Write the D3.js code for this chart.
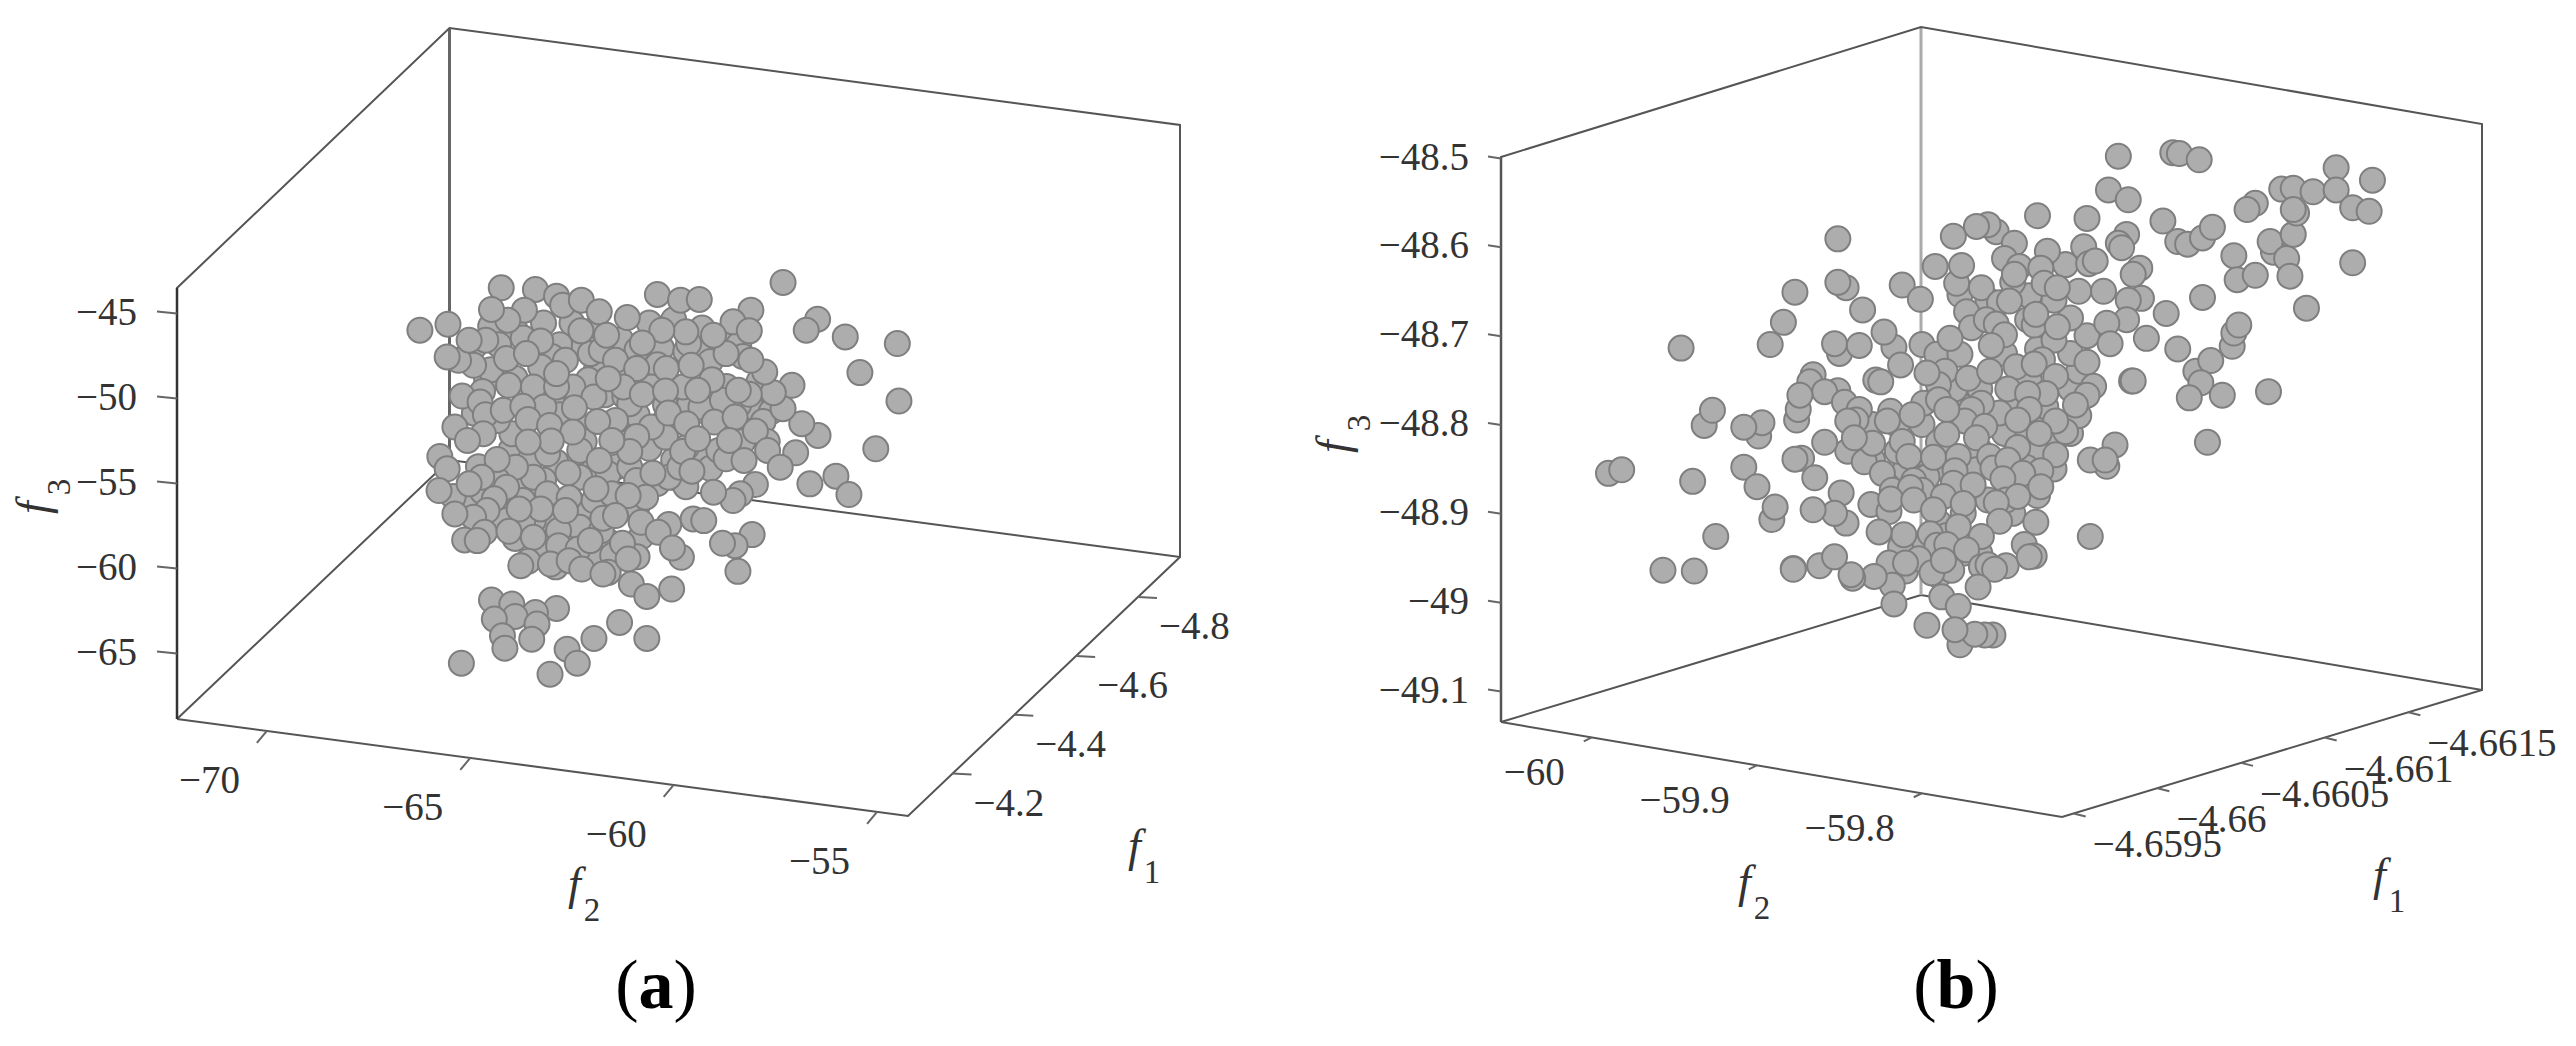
<!DOCTYPE html>
<html>
<head>
<meta charset="utf-8">
<script src="https://cdn.jsdelivr.net/npm/d3@7"></script>
<style>
  html, body { margin: 0; padding: 0; background: #fff; }
  text { font-family: 'Liberation Serif', serif; fill: #333; }
</style>
</head>
<body>
<div id="chart"></div>
<script>
// tick values of the two panels
var f3TicksA = [-45, -50, -55, -60, -65]
var f2TicksA = [-70, -65, -60, -55]
var f1TicksA = [-4.8, -4.6, -4.4, -4.2]
var f3TicksB = [-48.5, -48.6, -48.7, -48.8, -48.9, -49, -49.1]
var f2TicksB = [-60, -59.9, -59.8]
var f1TicksB = [-4.6595, -4.66, -4.6605, -4.661, -4.6615]

// points: [reading against the f2 axis, reading against the f3 axis]
var pointsA = [
  // the ones mostly hidden in the middle of the cloud
  [-64.5,-45.8],[-63.9,-46.0],[-63.2,-45.6],[-62.5,-45.6],[-61.9,-45.9],[-61.3,-46.6],[-60.6,-45.6],[-60.0,-45.4],[-59.3,-45.9],[-58.8,-46.4],
  [-64.9,-47.0],[-64.3,-46.9],[-63.7,-46.5],[-62.8,-46.9],[-62.2,-47.0],[-60.9,-47.2],[-60.3,-47.1],[-59.7,-47.3],[-59.2,-47.4],[-58.4,-46.9],
  [-64.6,-49.0],[-64.5,-48.4],[-63.9,-48.9],[-63.0,-47.6],[-61.9,-48.4],[-61.3,-48.6],[-60.4,-48.1],[-59.1,-47.9],[-58.3,-47.6],[-57.9,-49.1],
  [-64.7,-49.7],[-63.6,-49.9],[-63.0,-50.2],[-62.1,-49.0],[-61.7,-49.9],[-61.2,-50.0],[-60.2,-50.5],[-59.6,-50.4],[-58.7,-49.4],[-58.1,-50.6],
  [-57.6,-50.9],[-64.9,-51.0],[-62.8,-51.1],[-62.2,-51.9],[-61.4,-52.1],[-60.9,-51.1],[-60.2,-51.4],[-59.2,-50.9],[-58.4,-50.5],[-57.8,-51.5],
  [-64.0,-53.2],[-62.9,-53.9],[-62.2,-52.7],[-61.2,-52.8],[-60.6,-53.1],[-60.0,-53.8],[-59.3,-53.6],[-58.3,-52.7],[-57.7,-52.7],[-64.8,-54.2],
  [-64.4,-54.5],[-63.8,-55.2],[-63.2,-55.0],[-62.0,-54.5],[-61.4,-54.2],[-60.4,-55.2],[-59.7,-55.4],[-59.1,-54.3],[-65.1,-56.4],[-64.7,-55.7],
  [-63.4,-56.0],[-62.0,-57.3],[-61.3,-56.7],[-60.9,-56.6],[-64.0,-57.0],[-63.9,-58.5],[-63.2,-58.5],[-62.5,-58.0],[-61.6,-58.7],[-60.8,-58.4],
  [-60.9,-59.6],[-62.0,-59.5],[-63.3,-59.3],[-61.5,-59.5],[-62.9,-60.2],
  [-63.27,-48.23],[-63.45,-49.43],[-62.66,-47.83],[-62.05,-47.43],[-61.78,-47.23],[-61.43,-47.83],[-62.48,-49.43],[-61.96,-50.03],
  [-61.08,-50.43],[-60.55,-49.43],[-59.77,-49.43],[-59.15,-49.83],[-59.33,-50.63],[-59.68,-53.03],[-58.89,-53.23],[-60.20,-52.43],
  [-60.55,-51.83],[-61.43,-51.43],[-63.19,-50.63],[-63.98,-52.23],[-64.33,-51.43],[-63.54,-53.83],[-63.10,-53.43],[-62.31,-53.23],
  [-61.61,-54.63],[-61.08,-54.23],[-60.12,-54.83],[-59.85,-54.23],[-62.31,-54.83],[-63.45,-54.83],[-63.89,-54.23],[-64.33,-55.03],
  [-63.71,-56.23],[-63.10,-55.83],[-62.31,-56.83],[-61.96,-56.23],[-61.52,-55.83],[-63.01,-57.43],[-63.45,-57.43],[-62.31,-57.83],
  [-61.78,-58.03],[-62.83,-58.03],[-63.71,-57.43],[-64.15,-57.43],[-60.91,-55.03],
  // the ones on top
  [-64.24,-43.49],[-63.40,-43.59],[-62.88,-43.99],[-62.73,-44.53],[-62.27,-44.23],[-61.83,-44.93],[-61.14,-45.27],[-60.40,-43.89],
  [-59.83,-44.23],[-59.37,-44.19],[-57.31,-43.17],[-58.10,-44.83],[-58.54,-45.53],[-58.14,-46.07],[-56.46,-45.37],[-56.74,-46.03],
  [-55.78,-46.43],[-54.50,-46.83],[-55.42,-48.57],[-54.46,-50.27],[-55.03,-53.13],[-56.45,-52.33],[-56.85,-51.63],[-57.09,-49.33],
  [-57.31,-50.73],[-57.55,-49.77],[-57.76,-48.53],[-58.10,-47.83],[-58.14,-49.87],[-58.80,-50.23],[-59.06,-48.99],[-58.71,-47.43],
  [-59.02,-46.33],[-59.63,-46.83],[-59.70,-46.13],[-60.29,-46.03],[-60.77,-46.79],[-61.65,-46.33],[-62.28,-46.07],[-63.27,-46.67],
  [-63.67,-44.83],[-64.08,-45.43],[-64.48,-44.79],[-64.62,-46.63],[-64.92,-48.13],[-65.29,-47.83],[-65.57,-47.63],[-66.24,-46.03],
  [-65.55,-45.67],[-65.03,-46.63],[-64.11,-47.73],[-64.06,-49.33],[-63.62,-47.43],[-62.88,-49.43],[-62.88,-48.63],[-60.91,-48.33],
  [-60.18,-48.33],[-59.57,-48.13],[-61.24,-49.43],[-61.61,-48.93],[-60.77,-49.87],[-60.20,-49.67],[-59.41,-49.63],[-58.41,-49.63],
  [-65.20,-49.97],[-64.76,-50.33],[-64.63,-51.09],[-64.19,-50.83],[-63.71,-50.59],[-63.58,-51.37],[-63.05,-51.73],[-62.44,-50.67],
  [-61.87,-51.49],[-62.48,-52.13],[-60.91,-52.39],[-60.13,-50.99],[-59.68,-51.63],[-59.00,-51.53],[-58.49,-51.23],[-57.99,-52.07],
  [-57.69,-53.23],[-57.00,-53.37],[-57.38,-54.23],[-58.71,-53.73],[-58.27,-53.83],[-58.63,-52.63],[-59.78,-53.29],[-59.41,-52.53],
  [-60.51,-54.59],[-59.55,-54.47],[-61.08,-53.29],[-61.52,-52.63],[-61.83,-53.83],[-62.60,-54.57],[-63.01,-52.67],[-63.58,-52.73],
  [-64.34,-53.77],[-64.68,-52.23],[-65.38,-51.83],[-65.07,-52.63],[-65.75,-53.59],[-65.57,-54.33],[-64.72,-54.83],[-65.42,-55.99],
  [-65.77,-55.63],[-65.03,-55.23],[-64.11,-55.43],[-61.91,-55.53],[-60.69,-56.03],[-61.12,-55.93],[-57.99,-55.27],[-58.36,-55.83],
  [-58.54,-56.23],[-59.02,-55.73],[-56.65,-55.23],[-56.01,-54.77],[-55.69,-55.87],[-62.57,-56.07],[-63.27,-56.73],[-63.80,-56.73],
  [-62.66,-56.83],[-64.41,-56.13],[-64.59,-56.83],[-64.92,-57.23],[-65.38,-57.03],[-64.65,-58.13],[-65.14,-58.59],[-64.83,-58.63],
  [-64.05,-58.07],[-63.45,-58.43],[-62.83,-58.93],[-62.35,-59.13],[-61.74,-57.29],[-61.43,-57.13],[-62.05,-58.63],[-61.26,-58.79],
  [-60.80,-57.53],[-60.12,-57.67],[-60.38,-58.13],[-59.52,-57.33],[-59.26,-57.43],[-58.07,-58.27],[-58.49,-58.93],[-58.80,-58.79],
  [-59.81,-59.63],[-60.03,-59.07],[-58.42,-60.47],[-63.58,-59.87],[-63.76,-60.13],[-63.03,-60.03],[-62.57,-59.83],[-62.26,-60.33],
  [-61.61,-60.53],[-61.74,-60.63],[-61.12,-59.73],[-61.04,-61.23],[-60.66,-61.97],[-60.05,-61.53],[-64.48,-62.19],[-63.98,-62.43],
  [-62.88,-62.69],[-63.40,-62.93],[-63.90,-63.17],[-64.41,-63.33],[-63.36,-63.63],[-64.21,-64.33],[-63.49,-64.53],[-64.15,-65.07],
  [-61.33,-63.53],[-61.96,-64.49],[-60.66,-64.49],[-62.62,-65.13],[-62.37,-65.97],[-63.04,-66.63],[-65.22,-65.97]
]

var pointsB = [
  // the ones mostly hidden in the middle of the cloud
  [-59.80,-48.80],[-59.81,-48.85],[-59.79,-48.82],[-59.775,-48.78],[-59.765,-48.76],[-59.76,-48.79],[-59.75,-48.81],[-59.745,-48.775],
  [-59.73,-48.79],[-59.725,-48.78],[-59.78,-48.76],[-59.75,-48.72],[-59.735,-48.75],[-59.71,-48.76],[-59.705,-48.74],[-59.71,-48.72],
  [-59.70,-48.70],[-59.71,-48.68],[-59.72,-48.66],[-59.735,-48.655],[-59.745,-48.64],[-59.705,-48.65],[-59.69,-48.65],[-59.70,-48.73],
  [-59.83,-48.80],[-59.815,-48.83],[-59.80,-48.86],[-59.785,-48.85],[-59.77,-48.87],[-59.76,-48.885],[-59.775,-48.90],[-59.745,-48.865],
  [-59.73,-48.88],[-59.72,-48.85],[-59.72,-48.82],[-59.71,-48.81],[-59.705,-48.79],[-59.79,-48.91],[-59.745,-48.90],[-59.785,-48.925],
  [-59.775,-48.945],[-59.80,-48.94],[-59.81,-48.965],[-59.79,-48.97],[-59.765,-48.945],[-59.83,-48.84],[-59.845,-48.83],[-59.815,-48.80],
  [-59.79,-48.74],[-59.80,-48.71],[-59.76,-48.66],[-59.73,-48.715],[-59.72,-48.705],
  [-59.737,-48.818],[-59.731,-48.829],[-59.765,-48.829],[-59.737,-48.848],[-59.741,-48.863],[-59.767,-48.851],[-59.797,-48.859],
  // the ones on top
  [-59.990,-48.855],[-59.982,-48.851],[-59.698,-48.926],
  [-59.681,-48.498],[-59.648,-48.494],[-59.644,-48.495],[-59.632,-48.502],[-59.687,-48.536],[-59.675,-48.547],[-59.654,-48.571],
  [-59.700,-48.568],[-59.702,-48.600],[-59.713,-48.620],[-59.699,-48.619],[-59.695,-48.616],[-59.676,-48.586],[-59.681,-48.596],
  [-59.679,-48.601],[-59.668,-48.624],[-59.672,-48.631],[-59.645,-48.594],[-59.639,-48.597],[-59.630,-48.590],[-59.624,-48.578],
  [-59.611,-48.610],[-59.587,-48.606],[-59.589,-48.594],[-59.579,-48.613],[-59.575,-48.586],[-59.577,-48.633],[-59.609,-48.637],
  [-59.598,-48.632],[-59.539,-48.618],[-59.567,-48.669],[-59.630,-48.657],[-59.549,-48.511],[-59.527,-48.525],[-59.582,-48.535],
  [-59.575,-48.534],[-59.563,-48.538],[-59.549,-48.536],[-59.598,-48.551],[-59.603,-48.558],[-59.573,-48.562],[-59.575,-48.558],
  [-59.539,-48.556],[-59.529,-48.560],[-59.667,-48.658],[-59.675,-48.660],[-59.652,-48.675],[-59.676,-48.682],[-59.688,-48.686],
  [-59.686,-48.709],[-59.664,-48.703],[-59.645,-48.715],[-59.612,-48.712],[-59.611,-48.697],[-59.608,-48.688],[-59.634,-48.740],
  [-59.625,-48.728],[-59.631,-48.753],[-59.638,-48.770],[-59.618,-48.767],[-59.590,-48.763],[-59.673,-48.751],[-59.672,-48.751],
  [-59.627,-48.820],[-59.683,-48.823],[-59.688,-48.847],[-59.698,-48.840],[-59.689,-48.840],[-59.696,-48.757],[-59.700,-48.767],
  [-59.707,-48.778],[-59.713,-48.808],
  [-59.851,-48.591],[-59.877,-48.651],[-59.846,-48.646],[-59.851,-48.640],[-59.836,-48.671],[-59.812,-48.643],[-59.801,-48.659],
  [-59.884,-48.685],[-59.892,-48.710],[-59.946,-48.714],[-59.850,-48.720],[-59.853,-48.709],[-59.838,-48.711],[-59.817,-48.713],
  [-59.823,-48.696],[-59.813,-48.733],[-59.866,-48.744],[-59.868,-48.752],[-59.851,-48.762],[-59.859,-48.763],[-59.876,-48.795],
  [-59.875,-48.783],[-59.874,-48.767],[-59.828,-48.750],[-59.825,-48.752],[-59.932,-48.801],[-59.927,-48.784],[-59.899,-48.813],
  [-59.897,-48.798],[-59.908,-48.803],[-59.859,-48.820],[-59.847,-48.775],[-59.838,-48.783],[-59.840,-48.795],[-59.845,-48.796],
  [-59.873,-48.838],[-59.877,-48.839],[-59.835,-48.842],[-59.824,-48.855],[-59.908,-48.848],[-59.939,-48.864],[-59.900,-48.870],
  [-59.865,-48.860],[-59.849,-48.877],
  [-59.730,-48.565],[-59.755,-48.583],[-59.760,-48.575],[-59.767,-48.577],[-59.781,-48.588],[-59.744,-48.596],[-59.750,-48.613],
  [-59.724,-48.605],[-59.792,-48.622],[-59.777,-48.654],[-59.779,-48.641],[-59.776,-48.621],[-59.741,-48.622],[-59.728,-48.624],
  [-59.744,-48.631],[-59.764,-48.646],[-59.726,-48.641],[-59.718,-48.646],[-59.753,-48.663],[-59.747,-48.661],[-59.773,-48.673],
  [-59.770,-48.691],[-59.761,-48.682],[-59.755,-48.687],[-59.750,-48.699],[-59.736,-48.682],[-59.732,-48.688],[-59.731,-48.676],
  [-59.718,-48.690],[-59.791,-48.721],[-59.777,-48.721],[-59.783,-48.703],[-59.758,-48.711],[-59.786,-48.740],[-59.790,-48.755],
  [-59.797,-48.742],[-59.772,-48.748],[-59.759,-48.740],[-59.743,-48.735],[-59.727,-48.727],[-59.732,-48.732],[-59.748,-48.760],
  [-59.719,-48.746],[-59.725,-48.765],[-59.736,-48.765],[-59.735,-48.783],[-59.753,-48.787],[-59.764,-48.776],[-59.770,-48.783],
  [-59.774,-48.796],[-59.799,-48.776],[-59.790,-48.772],[-59.785,-48.783],[-59.819,-48.785],[-59.821,-48.796],[-59.806,-48.789],
  [-59.785,-48.811],[-59.762,-48.802],[-59.767,-48.815],[-59.719,-48.796],[-59.729,-48.810],[-59.812,-48.819],[-59.830,-48.821],
  [-59.841,-48.815],[-59.742,-48.795],[-59.742,-48.826],[-59.719,-48.834],[-59.759,-48.836],[-59.757,-48.849],[-59.748,-48.840],
  [-59.808,-48.836],[-59.793,-48.837],[-59.778,-48.836],[-59.780,-48.852],[-59.728,-48.852],[-59.739,-48.855],
  [-59.818,-48.874],[-59.805,-48.863],[-59.800,-48.874],[-59.807,-48.871],[-59.781,-48.866],[-59.769,-48.868],[-59.751,-48.861],
  [-59.728,-48.870],[-59.831,-48.890],[-59.820,-48.898],[-59.819,-48.884],[-59.787,-48.881],[-59.805,-48.885],[-59.793,-48.896],
  [-59.775,-48.889],[-59.749,-48.885],[-59.742,-48.881],[-59.755,-48.888],[-59.731,-48.910],[-59.753,-48.909],[-59.778,-48.915],
  [-59.795,-48.923],[-59.764,-48.926],[-59.791,-48.936],[-59.785,-48.935],[-59.813,-48.938],[-59.811,-48.924],[-59.826,-48.921],
  [-59.802,-48.951],[-59.773,-48.941],[-59.782,-48.964],[-59.794,-48.967],[-59.787,-48.953],[-59.820,-48.956],[-59.810,-48.956],
  [-59.749,-48.959],[-59.764,-48.960],[-59.760,-48.958],[-59.756,-48.963],[-59.766,-48.983],[-59.738,-48.935],[-59.732,-48.948],
  [-59.735,-48.949],[-59.788,-48.994],[-59.778,-49.005],[-59.818,-48.981],[-59.817,-49.002],[-59.829,-48.971],[-59.842,-48.973],
  [-59.843,-48.969],[-59.862,-48.959],[-59.853,-48.949],[-59.878,-48.962],[-59.878,-48.963],[-59.846,-48.911],[-59.853,-48.900],
  [-59.866,-48.896],[-59.891,-48.907],[-59.889,-48.893],[-59.925,-48.926],[-59.938,-48.965],[-59.957,-48.964],[-59.797,-49.026],
  [-59.777,-49.048],[-59.757,-49.037],[-59.762,-49.037],[-59.768,-49.036],[-59.780,-49.031]
]

var width = 2576
var height = 1046

var svg = d3
  .select('#chart')
  .append('svg')
  .attr('width', width)
  .attr('height', height)
  .style('display', 'block')

function minusLabel(d) {
  return String(d).replace('-', '\u2212')
}

function drawPanel(p) {
  var g = svg.append('g')
  var c = p.corners
  var line = d3.line()

  // back edges first, they sit behind the points
  g.append('path')
    .attr('d', line([c.leftBottom, c.backBottom, c.rightBottom]))
    .attr('fill', 'none')
    .attr('stroke', '#555')
    .attr('stroke-width', 2)
  g.append('path')
    .attr('d', line([c.backTop, c.backBottom]))
    .attr('fill', 'none')
    .attr('stroke', p.backColor)
    .attr('stroke-width', 3)
  g.append('path')
    .attr('d', line([c.leftBottom, c.leftTop, c.backTop, c.rightTop, c.rightBottom, c.front, c.leftBottom]))
    .attr('fill', 'none')
    .attr('stroke', '#555')
    .attr('stroke-width', 2)
  g.append('path')
    .attr('d', line([c.leftTop, c.leftBottom]))
    .attr('fill', 'none')
    .attr('stroke', p.leftColor)
    .attr('stroke-width', 2.5)

  // f3 axis
  var zScale = d3.scaleLinear().domain(p.zDomain).range(p.zRange)
  var zAxis = d3
    .axisLeft(zScale)
    .tickValues(p.f3Ticks)
    .tickSize(p.zTickLen)
    .tickPadding(p.zPad)
    .tickFormat(minusLabel)
  var zg = g
    .append('g')
    .attr('transform', 'translate(' + c.leftTop[0] + ',0)')
    .call(zAxis)
  zg.select('.domain').remove()
  zg.selectAll('.tick line').attr('y2', -2).attr('stroke', '#666').attr('stroke-width', 2)
  zg.selectAll('.tick text')
    .attr('font-size', p.fontSize)
    .attr('font-family', 'Liberation Serif')
    .attr('dy', 11)
    .style('fill', '#333')

  // f2 and f1 run along slanted edges, the scales return [x, y]
  var f2Edge = d3.scaleLinear().domain(p.f2Domain).range([c.leftBottom, c.front])
  var f1Edge = d3.scaleLinear().domain(p.f1Domain).range([c.rightBottom, c.front])

  function slantedAxis(scale, ticks, tick, label, anchor) {
    var t = g.append('g').selectAll('g').data(ticks).join('g')
    t.append('line')
      .attr('x1', (d) => scale(d)[0])
      .attr('y1', (d) => scale(d)[1])
      .attr('x2', (d) => scale(d)[0] + tick[0])
      .attr('y2', (d) => scale(d)[1] + tick[1])
      .attr('stroke', '#666')
      .attr('stroke-width', 2)
    t.append('text')
      .attr('x', (d) => scale(d)[0] + label[0])
      .attr('y', (d) => scale(d)[1] + label[1])
      .attr('text-anchor', anchor)
      .attr('font-size', p.fontSize)
      .text(minusLabel)
  }
  slantedAxis(f2Edge, p.f2Ticks, p.f2Tick, p.f2Label, 'end')
  slantedAxis(f1Edge, p.f1Ticks, p.f1Tick, p.f1Label, 'start')

  // points
  var xPlane = d3.scaleLinear().domain(p.planeDomain).range(p.planeRange)
  var yPlane = d3.scaleLinear().domain(p.zDomain).range(p.planeZRange)
  g.append('g')
    .selectAll('circle')
    .data(p.points)
    .join('circle')
    .attr('cx', (d) => xPlane(d[0]))
    .attr('cy', (d) => yPlane(d[1]))
    .attr('r', 12.5)
    .attr('fill', '#adadad')
    .attr('stroke', '#7f7f7f')
    .attr('stroke-width', 2)

  // axis names
  function axisName(base, sub, transform, subDx) {
    var t = g
      .append('text')
      .attr('transform', transform)
      .attr('font-size', 46)
      .attr('font-style', 'italic')
      .text(base)
    t.append('tspan')
      .attr('dx', subDx)
      .attr('dy', 22)
      .attr('font-size', 33)
      .attr('font-style', 'normal')
      .text(sub)
  }
  axisName('f', '3', 'translate(' + p.f3Name + ') rotate(-90)', p.f3SubDx)
  axisName('f', '2', 'translate(' + p.f2Name + ')', 3)
  axisName('f', '1', 'translate(' + p.f1Name + ')', 3)

  // panel caption, only the letter is bold
  var cap = g
    .append('text')
    .attr('x', p.caption[0])
    .attr('y', p.caption[1])
    .attr('text-anchor', 'middle')
    .attr('font-size', 70)
    .style('fill', '#000')
  cap.append('tspan').text('(')
  cap.append('tspan').attr('font-weight', 'bold').text(p.letter)
  cap.append('tspan').text(')')
}

drawPanel({
  corners: {
    leftTop: [177, 288],
    leftBottom: [177, 719],
    backTop: [449.5, 28],
    backBottom: [449.5, 460],
    rightTop: [1180, 125],
    rightBottom: [1180, 557],
    front: [908, 816],
  },
  backColor: '#666',
  leftColor: '#333',
  fontSize: 39,
  zDomain: [-45, -65],
  zRange: [313, 653],
  zTickLen: 20,
  zPad: 20,
  f3Ticks: f3TicksA,
  f2Ticks: f2TicksA,
  f1Ticks: f1TicksA,
  f2Domain: [-72.21, -54.24],
  f1Domain: [-4.936, -4.056],
  f2Tick: [-10, 12],
  f2Label: [-27, 62],
  f1Tick: [19, 1],
  f1Label: [21, 42],
  planeDomain: [-70, -55],
  planeRange: [267, 877],
  planeZRange: [313, 647],
  points: pointsA,
  f3Name: [48, 514],
  f3SubDx: 6,
  f2Name: [568, 899],
  f1Name: [1128, 861],
  caption: [656, 1008],
  letter: 'a',
})

drawPanel({
  corners: {
    leftTop: [1501, 157],
    leftBottom: [1501, 722],
    backTop: [1921, 27],
    backBottom: [1921, 595],
    rightTop: [2482, 124],
    rightBottom: [2482, 690],
    front: [2062, 817],
  },
  backColor: '#aaa',
  leftColor: '#555',
  fontSize: 39,
  zDomain: [-48.5, -49.1],
  zRange: [158, 691],
  zTickLen: 13,
  zPad: 19,
  f3Ticks: f3TicksB,
  f2Ticks: f2TicksB,
  f1Ticks: f1TicksB,
  f2Domain: [-60.055, -59.715],
  f1Domain: [-4.66194, -4.65943],
  f2Tick: [-8, 4],
  f2Label: [-27, 48],
  f1Tick: [12, 3],
  f1Label: [19, 44],
  planeDomain: [-60, -59.8],
  planeRange: [1592, 1922],
  planeZRange: [158, 691],
  points: pointsB,
  f3Name: [1348, 453],
  f3SubDx: 9,
  f2Name: [1738, 897],
  f1Name: [2373, 890],
  caption: [1956, 1008],
  letter: 'b',
})
</script>
</body>
</html>
